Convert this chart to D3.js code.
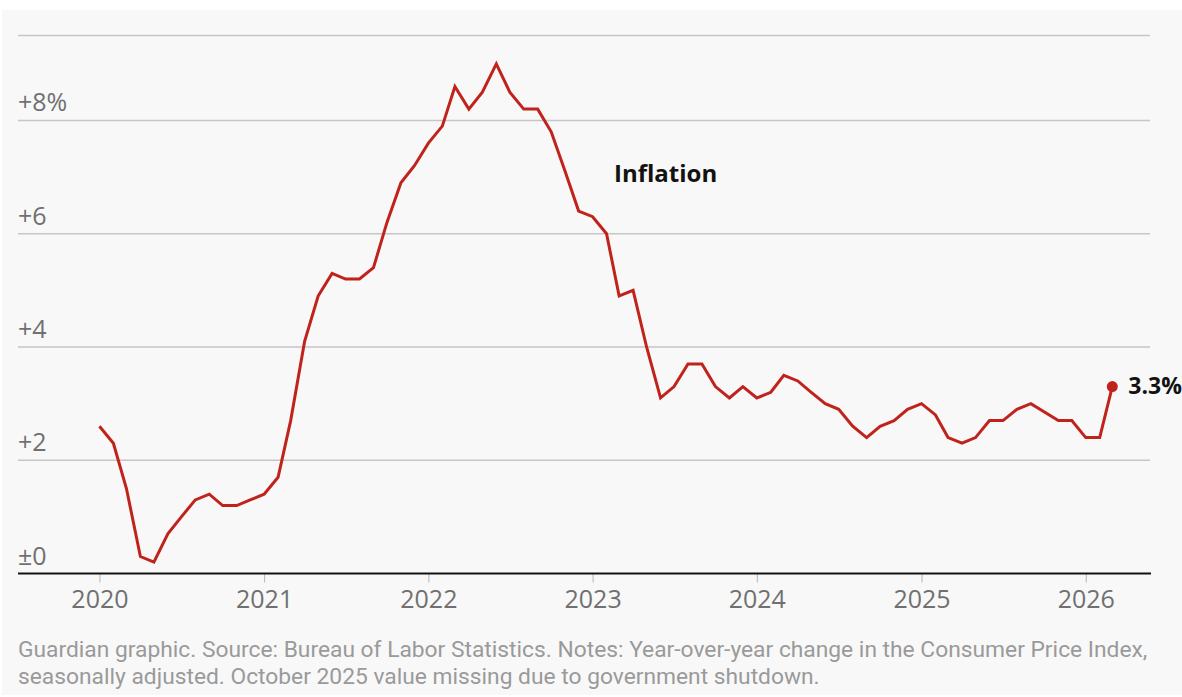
<!DOCTYPE html>
<html>
<head>
<meta charset="utf-8">
<script src="https://cdn.jsdelivr.net/npm/d3@7"></script>
<style>
  html, body { margin: 0; padding: 0; background: #ffffff; }
  svg { display: block; }
  text { font-family: "Open Sans", "Noto Sans", sans-serif; }
  text.footer { font-family: Roboto, "Open Sans", sans-serif; }
</style>
</head>
<body>
<svg id="chart" width="1182" height="697"></svg>
<script>
// ---- data (monthly, Jan 2020 – Mar 2026; Oct 2025 missing) ----
const years = [2020, 2021, 2022, 2023, 2024, 2025, 2026];
const values2020 = [2.6, 2.3, 1.5, 0.3, 0.2, 0.7, 1.0, 1.3, 1.4, 1.2, 1.2, 1.3];
const values2021 = [1.4, 1.7, 2.7, 4.1, 4.9, 5.3, 5.2, 5.2, 5.4, 6.2, 6.9, 7.2];
const values2022 = [7.6, 7.9, 8.6, 8.2, 8.5, 9.0, 8.5, 8.2, 8.2, 7.8, 7.1, 6.4];
const values2023 = [6.3, 6.0, 4.9, 5.0, 4.0, 3.1, 3.3, 3.7, 3.7, 3.3, 3.1, 3.3];
const values2024 = [3.1, 3.2, 3.5, 3.4, 3.2, 3.0, 2.9, 2.6, 2.4, 2.6, 2.7, 2.9];
const values2025 = [3.0, 2.8, 2.4, 2.3, 2.4, 2.7, 2.7, 2.9, 3.0, null, 2.7, 2.7];
const values2026 = [2.4, 2.4, 3.3];
const yTicks = [0, 2, 4, 6, 8];
const yTickLabels = ["±0", "+2", "+4", "+6", "+8%"];
const seriesLabel = "Inflation";
const lastLabel = "3.3%";
const footerLines = [
  "Guardian graphic. Source: Bureau of Labor Statistics. Notes: Year-over-year change in the Consumer Price Index,",
  "seasonally adjusted. October 2025 value missing due to government shutdown."
];

const yearValues = [values2020, values2021, values2022, values2023, values2024, values2025, values2026];
const data = [];
yearValues.forEach((arr, i) => {
  arr.forEach((v, m) => data.push({ date: new Date(years[i], m, 1), value: v }));
});
const present = data.filter(d => d.value !== null);
const last = present[present.length - 1];

// ---- layout ----
const svg = d3.select("#chart");
const left = 18, right = 1151;
const x = d3.scaleTime()
  .domain([new Date(2019, 6, 4), new Date(2026, 4, 26)])
  .range([left, right]);
const y = d3.scaleLinear().domain([0, 9.5]).range([573.5, 35.5]);

const red = "#c0231c";
const gray = "#707070";

svg.append("rect").attr("x", 2).attr("y", 10).attr("width", 1180).attr("height", 685).attr("fill", "#f8f8f8");

// gridlines (including the top line)
const gridVals = yTicks.filter(v => v !== 0).concat([9.5]);
svg.append("g").selectAll("line").data(gridVals).join("line")
  .attr("x1", left).attr("x2", right - 1)
  .attr("y1", d => y(d)).attr("y2", d => y(d))
  .attr("stroke", "#c6c6c6").attr("stroke-width", 1.5);

// y labels
svg.append("g").selectAll("text").data(yTicks).join("text")
  .attr("x", left).attr("y", d => y(d) - 9)
  .attr("fill", gray).attr("font-size", 25)
  .text((d, i) => yTickLabels[i]);

// x axis
const xAxis = d3.axisBottom(x)
  .tickValues(years.map(yr => new Date(yr, 0, 1)))
  .tickFormat(d3.timeFormat("%Y"))
  .tickSize(9).tickPadding(8);
const gx = svg.append("g").attr("transform", `translate(0,${y(0)})`).call(xAxis);
gx.select(".domain").remove();
gx.selectAll(".tick line").attr("stroke", "#b5b5b5").attr("stroke-width", 1);
gx.selectAll(".tick text").attr("fill", gray).attr("font-size", 25)
  .attr("font-family", '"Open Sans", sans-serif').attr("dy", "0.71em");

// baseline
svg.append("line").attr("x1", left).attr("x2", right)
  .attr("y1", y(0)).attr("y2", y(0))
  .attr("stroke", "#121212").attr("stroke-width", 2);

// line
const line = d3.line().x(d => x(d.date)).y(d => y(d.value));
svg.append("path").datum(present)
  .attr("d", line).attr("fill", "none")
  .attr("stroke", red).attr("stroke-width", 3)
  .attr("stroke-linejoin", "miter").attr("stroke-linecap", "butt");

// end dot + label
svg.append("circle").attr("cx", x(last.date)).attr("cy", y(last.value)).attr("r", 5.5).attr("fill", red);
svg.append("text").attr("x", x(last.date) + 16).attr("y", y(last.value) + 7)
  .attr("font-size", 23).attr("font-weight", 700).attr("fill", "#121212").text(lastLabel);

// series label
svg.append("text").attr("x", 614).attr("y", 182)
  .attr("font-size", 24).attr("font-weight", 700).attr("fill", "#121212").text(seriesLabel);

// footer
const f = svg.append("g").attr("fill", "#9a9a9a");
const t1 = f.append("text").attr("class", "footer").attr("x", left).attr("y", 657).attr("font-size", 20).text(footerLines[0]);
const w = t1.node().getComputedTextLength();
const fs = 20 * 1130 / w;
t1.attr("font-size", fs);
f.append("text").attr("class", "footer").attr("x", left).attr("y", 684).attr("font-size", fs).text(footerLines[1]);
</script>
</body>
</html>
